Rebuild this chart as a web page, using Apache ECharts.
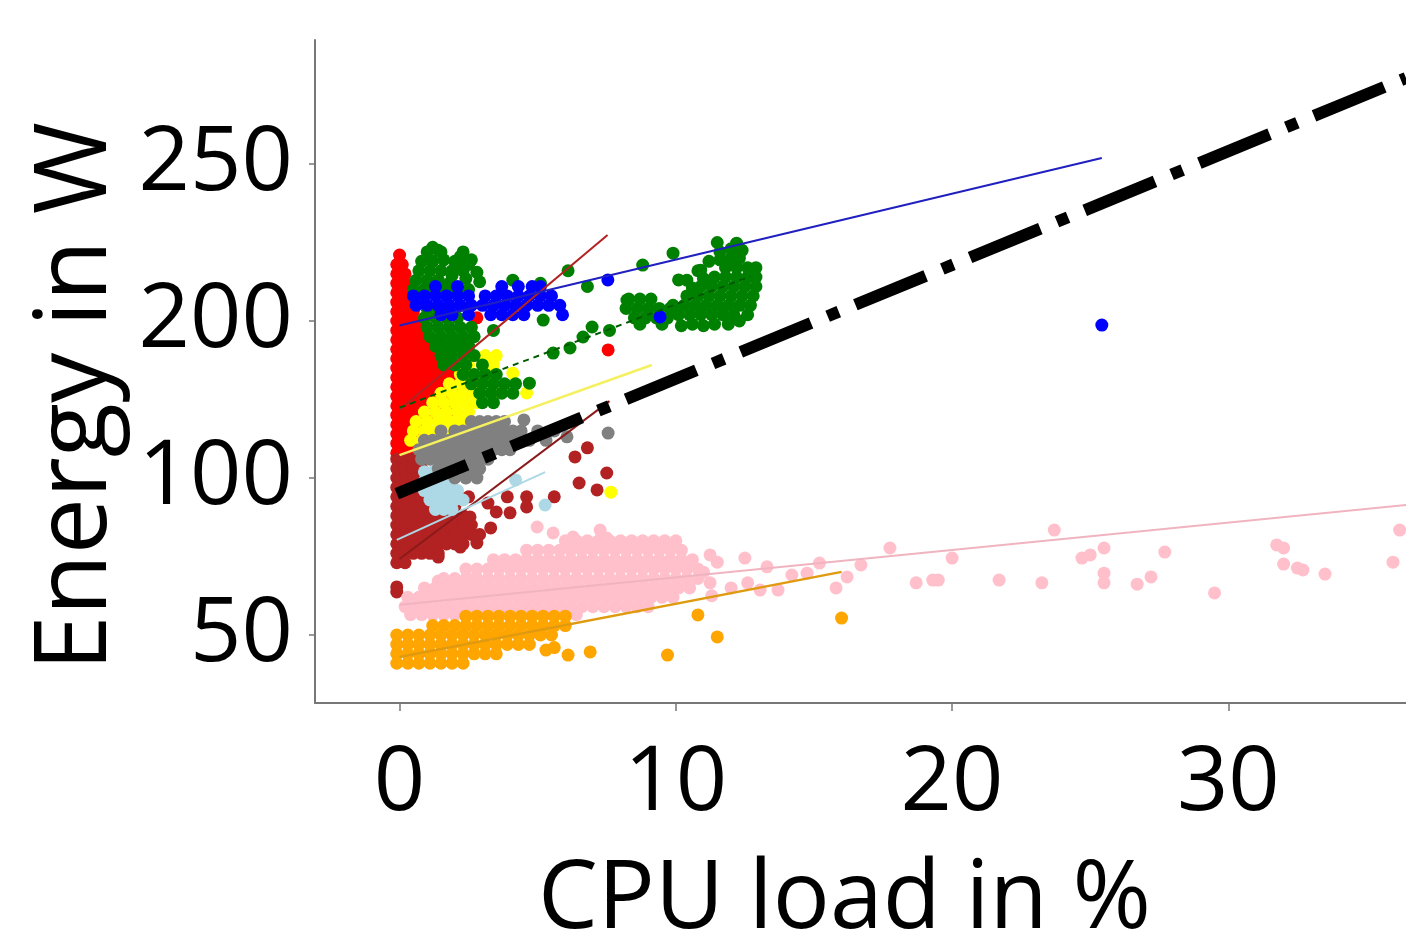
<!DOCTYPE html>
<html>
<head>
<meta charset="utf-8">
<script src="https://cdn.jsdelivr.net/npm/echarts@6/dist/echarts.min.js"></script>
<style>
  html, body { margin: 0; background: #fff; }
  #main { width: 1406px; height: 937px; }
</style>
</head>
<body>
<div id="main"></div>
<script>
// x: CPU load in %, y: position on the energy axis
// (the source figure labels its evenly spaced ticks 50, 100, 200, 250)
const xTicks = [0, 10, 20, 30]
const yTicks = [50, 100, 150, 200]
const yTickLabels = ['50', '100', '200', '250']

const redPoints = [
  [0.0, 171], [-0.1, 168], [0.1, 168], [-0.1, 165], [0.2, 165], [-0.1, 162], [0.2, 162],
  [-0.1, 159], [0.2, 159], [0.5, 159], [-0.1, 156], [0.2, 156], [0.5, 156], [-0.1, 153], [0.2, 153], [0.5, 153],
  [-0.1, 150], [0.2, 150], [0.5, 150], [0.8, 150], [-0.1, 147], [0.2, 147], [0.5, 147], [0.8, 147],
  [-0.1, 144], [0.2, 144], [0.5, 144], [0.8, 144], [1.1, 144],
  [-0.1, 141], [0.2, 141], [0.5, 141], [0.8, 141], [1.1, 141], [1.4, 141],
  [-0.1, 138], [0.2, 138], [0.5, 138], [0.8, 138], [1.1, 138], [1.4, 138], [1.7, 138],
  [-0.1, 135], [0.2, 135], [0.5, 135], [0.8, 135], [1.1, 135], [1.4, 135], [1.7, 135], [2.0, 135],
  [-0.1, 132], [0.2, 132], [0.5, 132], [0.8, 132], [1.1, 132], [1.4, 132], [1.7, 132], [2.0, 132], [2.3, 131],
  [-0.1, 129], [0.2, 129], [0.5, 129], [0.8, 129], [1.1, 129], [1.4, 129], [1.7, 129], [2.0, 129],
  [-0.1, 126], [0.2, 126], [0.5, 126], [0.8, 126], [1.1, 126], [1.4, 126], [1.7, 126],
  [-0.1, 123], [0.2, 123], [0.5, 123], [0.8, 123], [1.1, 123], [1.4, 123],
  [-0.1, 120], [0.2, 120], [0.5, 120], [0.8, 120], [1.1, 120],
  [-0.1, 117], [0.2, 117], [0.5, 117], [0.8, 117],
  [-0.1, 114], [0.2, 114], [0.5, 114], [0.8, 114],
  [-0.1, 111], [0.2, 111], [0.5, 111], [-0.1, 108], [0.2, 108], [0.5, 108],
  [7.55, 140.8], [2.8, 151], [1.9, 121.7], [2.5, 128]
]

const firebrickPoints = [
  [-0.1, 106], [0.2, 106], [0.5, 106],
  [-0.1, 103], [0.2, 103], [0.5, 103], [0.8, 103],
  [-0.1, 100], [0.2, 100], [0.5, 100], [0.8, 100], [1.1, 100],
  [-0.1, 97], [0.2, 97], [0.5, 97], [0.8, 97], [1.1, 97], [1.4, 97],
  [-0.1, 94], [0.2, 94], [0.5, 94], [0.8, 94], [1.1, 94], [1.4, 94], [1.7, 94],
  [-0.1, 91], [0.2, 91], [0.5, 91], [0.8, 91], [1.1, 91], [1.4, 91], [1.7, 91], [2.0, 91],
  [-0.1, 88], [0.2, 88], [0.5, 88], [0.8, 88], [1.1, 88], [1.4, 88], [1.7, 88], [2.0, 88], [2.3, 88],
  [-0.1, 85], [0.2, 85], [0.5, 85], [0.8, 85], [1.1, 85], [1.4, 85], [1.7, 85], [2.0, 85], [2.3, 85], [2.6, 85],
  [-0.1, 82], [0.2, 82], [0.5, 82], [0.8, 82], [1.1, 82], [1.4, 82], [1.7, 82], [2.0, 82], [2.3, 82], [2.6, 82], [2.9, 82],
  [-0.1, 79], [0.2, 79], [0.5, 79], [0.8, 79], [1.1, 79], [1.4, 79], [1.7, 79], [2.0, 79], [2.3, 79],
  [-0.1, 76], [0.2, 76], [0.5, 76], [0.8, 76], [1.1, 76], [1.4, 76],
  [-0.1, 73], [0.2, 73],
  [1.7, 104.8], [2.5, 94], [3.2, 92], [3.9, 94], [4.6, 94], [4.6, 90.8], [5.6, 94], [6.35, 106.7],
  [6.8, 109.6], [7.5, 101.6], [6.5, 98.4], [7.15, 96.2], [4.0, 88.9], [3.5, 89.2], [3.3, 84.1],
  [2.8, 79.3], [2.2, 78.0], [1.4, 74.8], [2.55, 87.6], [-0.1, 65.3], [-0.1, 63.7]
]

const lightbluePoints = [
  [0.9, 102], [1.2, 102], [1.5, 102], [0.9, 99], [1.2, 99], [1.5, 99], [1.8, 99],
  [0.9, 96], [1.2, 96], [1.5, 96], [1.8, 96], [2.1, 96], [1.1, 93], [1.4, 93], [1.7, 93], [2.0, 93], [2.3, 93],
  [1.3, 90], [1.6, 90], [1.9, 90], [2.4, 100], [2.8, 101], [4.2, 99.4], [5.27, 91.4]
]

const pinkPoints = [
  [6.0, 80], [6.4, 80], [6.8, 80], [7.2, 80], [7.6, 80], [8.0, 80], [8.4, 80], [8.8, 80], [9.2, 80], [9.6, 80], [10.0, 80],
  [4.6, 77], [5.0, 77], [5.4, 77], [5.8, 77], [6.2, 77], [6.6, 77], [7.0, 77], [7.4, 77], [7.8, 77], [8.2, 77],
  [8.6, 77], [9.0, 77], [9.4, 77], [9.8, 77], [10.2, 77],
  [3.4, 74], [3.8, 74], [4.2, 74], [4.6, 74], [5.0, 74], [5.4, 74], [5.8, 74], [6.2, 74], [6.6, 74], [7.0, 74],
  [7.4, 74], [7.8, 74], [8.2, 74], [8.6, 74], [9.0, 74], [9.4, 74], [9.8, 74], [10.2, 74], [10.6, 74],
  [2.4, 71], [2.8, 71], [3.2, 71], [3.6, 71], [4.0, 71], [4.4, 71], [4.8, 71], [5.2, 71], [5.6, 71], [6.0, 71], [6.4, 71],
  [6.8, 71], [7.2, 71], [7.6, 71], [8.0, 71], [8.4, 71], [8.8, 71], [9.2, 71], [9.6, 71], [10.0, 71], [10.4, 71], [10.8, 71],
  [1.6, 68], [2.0, 68], [2.4, 68], [2.8, 68], [3.2, 68], [3.6, 68], [4.0, 68], [4.4, 68], [4.8, 68], [5.2, 68], [5.6, 68], [6.0, 68],
  [6.4, 68], [6.8, 68], [7.2, 68], [7.6, 68], [8.0, 68], [8.4, 68], [8.8, 68], [9.2, 68], [9.6, 68], [10.0, 68], [10.4, 68], [10.8, 68],
  [0.9, 65], [1.3, 65], [1.7, 65], [2.1, 65], [2.5, 65], [2.9, 65], [3.3, 65], [3.7, 65], [4.1, 65], [4.5, 65], [4.9, 65], [5.3, 65], [5.7, 65],
  [6.1, 65], [6.5, 65], [6.9, 65], [7.3, 65], [7.7, 65], [8.1, 65], [8.5, 65], [8.9, 65], [9.3, 65], [9.7, 65], [10.1, 65], [10.5, 65],
  [0.3, 62], [0.7, 62], [1.1, 62], [1.5, 62], [1.9, 62], [2.3, 62], [2.7, 62], [3.1, 62], [3.5, 62], [3.9, 62], [4.3, 62], [4.7, 62], [5.1, 62],
  [5.5, 62], [5.9, 62], [6.3, 62], [6.7, 62], [7.1, 62], [7.5, 62], [7.9, 62], [8.3, 62], [8.7, 62], [9.1, 62], [9.5, 62], [9.9, 62],
  [0.2, 59], [0.6, 59], [1.0, 59], [1.4, 59], [1.8, 59], [2.2, 59], [2.6, 59], [3.0, 59], [3.4, 59], [3.8, 59], [4.2, 59], [4.6, 59],
  [5.0, 59], [5.4, 59], [5.8, 59], [6.2, 59], [6.6, 59], [7.0, 59], [7.4, 59], [7.8, 59], [8.2, 59], [8.6, 59], [9.0, 59],
  [0.4, 56.5], [0.8, 56.5], [1.2, 56.5], [1.6, 56.5], [2.0, 56.5], [2.4, 56.5], [2.8, 56.5], [3.2, 56.5],
  [3.6, 56.5], [4.0, 56.5], [4.4, 56.5], [4.8, 56.5], [5.2, 56.5], [5.6, 56.5], [6.0, 56.5], [6.4, 56.5],
  [4.98, 84.4], [5.56, 82.5], [6.28, 81.2], [6.9, 78], [7.26, 83.4], [7.5, 80.9],
  [1.4, 67.2], [2.0, 67.2], [2.7, 67.8],
  [11.24, 75.5], [11.5, 73.2], [12.5, 74.5], [13.3, 71.7], [15.2, 72.9], [16.7, 72.3], [17.75, 77.7],
  [14.2, 69.1], [14.75, 69.7], [16.2, 68.5], [15.8, 65], [12.0, 65], [12.6, 66.6], [13.05, 64.3],
  [13.7, 64.3], [11.24, 66.6], [11.0, 70], [11.3, 62.5],
  [18.7, 66.6], [19.3, 67.5], [19.5, 67.5], [20.0, 74.5], [21.7, 67.5], [23.25, 66.6], [23.7, 83.4],
  [24.7, 74.5], [25.0, 75.5], [25.5, 77.7], [25.5, 69.7], [25.5, 66.6], [26.7, 66.2], [27.2, 68.5],
  [27.7, 76.4], [29.5, 63.4], [31.75, 78.7], [32.0, 77.7], [32.0, 72.6], [32.5, 71.3], [32.7, 70.7],
  [33.5, 69.4], [35.96, 73.2], [36.2, 83.4]
]

const orangePoints = [
  [2.4, 56], [2.8, 56], [3.2, 56], [3.6, 56], [4.0, 56], [4.4, 56], [4.8, 56], [5.2, 56], [5.6, 56], [6.0, 56],
  [1.2, 53], [1.6, 53], [2.0, 53], [2.4, 53], [2.8, 53], [3.2, 53], [3.6, 53], [4.0, 53], [4.4, 53], [4.8, 53], [5.2, 53], [5.6, 53], [6.0, 53],
  [-0.1, 50], [0.3, 50], [0.7, 50], [1.1, 50], [1.5, 50], [1.9, 50], [2.3, 50], [2.7, 50], [3.1, 50], [3.5, 50], [3.9, 50], [4.3, 50], [4.7, 50], [5.1, 50], [5.5, 50],
  [-0.1, 47], [0.3, 47], [0.7, 47], [1.1, 47], [1.5, 47], [1.9, 47], [2.3, 47], [2.7, 47], [3.1, 47], [3.5, 47], [3.9, 47], [4.3, 47], [4.7, 47],
  [-0.1, 44], [0.3, 44], [0.7, 44], [1.1, 44], [1.5, 44], [1.9, 44], [2.3, 44], [2.7, 44], [3.1, 44], [3.5, 44],
  [-0.1, 41], [0.3, 41], [0.7, 41], [1.1, 41], [1.5, 41], [1.9, 41], [2.3, 41],
  [5.3, 45.2], [5.6, 46.0], [6.1, 43.6], [6.9, 44.6], [9.7, 43.6], [10.8, 56.4], [11.5, 49.4], [16.0, 55.4]
]

const yellowPoints = [
  [3.1, 139], [3.5, 139], [2.5, 136], [3.0, 136], [3.4, 136], [2.2, 133], [2.6, 133], [3.2, 133],
  [1.8, 130], [2.2, 130], [2.6, 130], [3.0, 130], [1.5, 127], [1.9, 127], [2.3, 127], [2.7, 127],
  [1.2, 124], [1.6, 124], [2.0, 124], [2.4, 124], [2.8, 124], [0.9, 121], [1.3, 121], [1.7, 121], [2.1, 121], [2.5, 121],
  [0.6, 118], [1.0, 118], [1.4, 118], [1.8, 118], [2.2, 118], [0.5, 115], [0.9, 115], [1.3, 115], [1.7, 115],
  [0.4, 112], [0.8, 112], [1.2, 112],
  [4.1, 133.4], [3.46, 138.5], [4.6, 127.1], [3.35, 127.1], [7.65, 95.5]
]

const greenPoints = [
  [1.2, 173.5], [1.6, 169.5], [2.2, 170.5], [2.2, 167], [1.1, 166], [1.0, 170], [1.5, 172], [1.9, 166], [2.5, 168],
  [1.0, 172], [1.4, 172.5], [2.3, 172], [0.8, 169], [1.2, 169], [2.0, 169], [2.6, 169.5],
  [0.7, 166], [1.5, 166], [2.3, 166], [2.8, 165.5], [0.6, 163], [1.0, 163], [1.9, 164.5],
  [0.9, 160], [1.7, 160.5], [2.1, 160], [2.5, 160],
  [1.4, 163], [1.8, 162], [2.4, 163.5], [2.9, 162.5], [4.1, 163], [5.1, 162], [6.1, 166], [6.8, 161],
  [0.5, 160], [0.8, 157], [1.3, 160], [1.7, 158],
  [1.0, 154], [1.4, 154], [1.8, 154], [0.9, 151], [1.3, 151], [1.7, 151], [2.1, 151], [5.2, 150.3],
  [1.0, 148], [1.4, 148], [1.8, 148], [2.2, 148], [2.6, 148],
  [1.1, 145], [1.5, 145], [1.9, 145], [2.3, 145], [2.7, 145], [3.4, 147],
  [1.3, 142], [1.7, 142], [2.1, 142], [2.5, 142], [1.5, 139], [1.9, 139], [2.3, 139], [2.7, 139],
  [1.6, 136], [2.0, 136], [2.4, 136], [3.0, 136], [2.3, 133], [2.7, 133], [3.1, 133], [3.5, 133],
  [2.6, 130], [3.0, 130], [3.4, 130], [3.8, 130], [4.2, 130], [2.9, 127], [3.3, 127], [3.7, 127], [4.1, 127], [4.7, 130.2],
  [3.0, 124], [3.4, 124],
  [5.56, 139.8], [6.17, 141.4], [6.64, 144.9], [6.97, 148.1], [8.23, 156.7], [7.6, 147],
  [8.8, 167.8], [9.9, 171.6], [10.1, 163.1], [10.9, 166.2], [11.5, 175], [12.2, 174.8],
  [8.3, 157], [8.7, 157], [9.1, 157], [8.2, 154], [8.6, 154], [9.0, 154], [9.4, 154], [9.8, 154],
  [8.5, 151], [8.9, 151], [9.3, 151], [9.7, 151], [8.7, 149], [9.5, 149],
  [11.6, 172], [12.0, 173], [12.4, 172.5], [11.2, 169], [11.6, 169.5], [10.8, 166], [10.4, 163], [10.6, 160.5],
  [12.0, 170], [12.3, 170], [11.8, 167], [12.2, 167], [12.6, 167], [12.9, 167], [12.9, 164],
  [11.4, 164], [11.8, 164], [12.2, 164], [12.6, 164], [11.0, 163.5],
  [10.9, 161], [11.3, 161], [11.7, 161], [12.1, 161], [12.5, 161], [12.9, 161],
  [10.4, 158], [10.8, 158], [11.2, 158], [11.6, 158], [12.0, 158], [12.4, 158], [12.8, 158],
  [9.9, 155], [10.3, 155], [10.7, 155], [11.1, 155], [11.5, 155], [11.9, 155], [12.3, 155], [12.7, 155],
  [10.1, 152], [10.5, 152], [10.9, 152], [11.3, 152], [11.7, 152], [12.1, 152], [12.6, 152],
  [10.2, 148.5], [10.6, 149], [11.0, 148.5], [11.4, 149], [11.9, 149], [12.3, 150]
]

const bluePoints = [
  [1.3, 161], [2.1, 161], [3.7, 161], [4.3, 161], [4.8, 161], [5.1, 161],
  [0.5, 158], [0.9, 158], [1.3, 158], [1.7, 158], [2.1, 158], [2.5, 158], [3.1, 158], [3.5, 158], [3.9, 158],
  [4.3, 158], [4.7, 158], [5.1, 158], [5.5, 158],
  [0.6, 155], [1.0, 155], [1.4, 155], [1.8, 155], [2.2, 155], [2.6, 155], [3.0, 155], [3.4, 155], [3.8, 155],
  [4.2, 155], [4.6, 155], [5.0, 155], [5.4, 155], [5.8, 155],
  [1.5, 152], [1.9, 152], [2.5, 152], [3.3, 152], [3.7, 152], [4.1, 152], [4.5, 152], [5.9, 152],
  [7.54, 163.1], [9.43, 151.3], [25.42, 148.7]
]

const grayPoints = [
  [2.6, 118], [2.9, 118], [3.2, 118], [3.5, 118], [3.8, 118], [4.5, 118.5],
  [1.5, 115], [2.0, 115], [2.3, 115], [2.6, 115], [2.9, 115], [3.2, 115], [3.5, 115], [3.8, 115], [4.1, 115], [4.4, 115], [5.0, 115], [5.6, 115],
  [0.9, 112], [1.2, 112], [1.5, 112], [1.8, 112], [2.1, 112], [2.4, 112], [2.7, 112], [3.0, 112], [3.3, 112], [3.6, 112], [3.9, 112], [4.2, 112], [4.7, 112], [5.3, 112],
  [0.7, 109], [1.0, 109], [1.3, 109], [1.6, 109], [1.9, 109], [2.2, 109], [2.5, 109], [2.8, 109], [3.1, 109], [3.4, 109], [3.7, 109], [4.0, 109],
  [0.8, 106], [1.1, 106], [1.4, 106], [1.7, 106], [2.0, 106], [2.3, 106], [2.6, 106], [2.9, 106], [3.2, 106],
  [1.4, 103], [1.7, 103], [2.0, 103], [2.3, 103], [2.6, 103], [2.9, 103], [2.0, 100], [2.4, 100], [2.8, 100],
  [6.06, 113.1], [7.55, 114.3]
]

// fitted lines: [start, end]
const redFit = [[0, 121.7], [7.53, 177.4]]
const firebrickFit = [[0, 74.2], [7.6, 124.5]]
const lightblueFit = [[-0.1, 80.3], [5.27, 101.9]]
const yellowFit = [[0, 107.3], [9.13, 136.0]]
const greenFit = [[0, 122.4], [12.7, 164.2]]
const blueFit = [[0, 148.6], [25.42, 201.9]]
const pinkFit = [[0, 59.6], [36.43, 91.4]]
const orangeFit = [[0, 43.0], [16.0, 70.1]]
const overallFit = [[-0.1, 95.0], [36.43, 227.4]]

const chart = echarts.init(document.getElementById('main'))

function dots (name, data, color) {
  return {
    name: name,
    type: 'scatter',
    data: data,
    symbolSize: 13,
    itemStyle: { color: color, opacity: 1 },
    silent: true
  }
}

function fit (name, data, color, width, type) {
  return {
    name: name,
    type: 'line',
    data: data,
    showSymbol: false,
    symbol: 'none',
    lineStyle: { color: color, width: width, type: type || 'solid', cap: 'butt' },
    silent: true
  }
}

const yLabelMap = {}
yTicks.forEach(function (v, i) { yLabelMap[v] = yTickLabels[i] })

chart.setOption({
  animation: false,
  backgroundColor: '#fff',
  grid: { left: 315, right: 0, top: 40, bottom: 234, containLabel: false, outerBoundsMode: 'none' },
  xAxis: {
    type: 'value',
    min: -3.06,
    max: 36.43,
    name: 'CPU load in %',
    nameLocation: 'middle',
    nameGap: 150,
    nameTextStyle: { fontFamily: 'Open Sans', fontSize: 95, color: '#000', padding: [0, 32, 0, 0] },
    axisLine: { show: true, onZero: false, lineStyle: { color: '#777', width: 2 } },
    axisTick: { show: true, length: 8, customValues: xTicks, lineStyle: { color: '#777', width: 1.5 } },
    axisLabel: { customValues: xTicks, fontFamily: 'Open Sans', fontSize: 90, color: '#000', margin: 36 },
    splitLine: { show: false }
  },
  yAxis: {
    type: 'value',
    min: 28.34,
    max: 239.5,
    name: 'Energy in W',
    nameLocation: 'middle',
    nameGap: 176,
    nameTextStyle: { fontFamily: 'Open Sans', fontSize: 100, color: '#000', padding: [0, 50, 0, 0] },
    axisLine: { show: true, onZero: false, lineStyle: { color: '#777', width: 2 } },
    axisTick: { show: true, length: 6, customValues: yTicks, lineStyle: { color: '#777', width: 1.5 } },
    axisLabel: {
      customValues: yTicks,
      fontFamily: 'Open Sans',
      fontSize: 90,
      color: '#000',
      margin: 22,
      formatter: function (v) { return yLabelMap[v] !== undefined ? yLabelMap[v] : '' }
    },
    splitLine: { show: false }
  },
  series: [
    dots('red', redPoints, '#ff0000'),
    dots('firebrick', firebrickPoints, '#b22222'),
    dots('lightblue', lightbluePoints, '#add8e6'),
    dots('pink', pinkPoints, '#ffc0cb'),
    dots('orange', orangePoints, '#ffa500'),
    dots('yellow', yellowPoints, '#ffff00'),
    dots('green', greenPoints, '#008000'),
    dots('blue', bluePoints, '#0000ff'),
    dots('gray', grayPoints, '#808080'),
    fit('red fit', redFit, '#b22222', 2),
    fit('firebrick fit', firebrickFit, '#8b1a1a', 2),
    fit('lightblue fit', lightblueFit, '#add8e6', 2),
    fit('yellow fit', yellowFit, '#f5f060', 2.5),
    fit('green fit', greenFit, '#005a00', 2, [6, 5]),
    fit('blue fit', blueFit, '#2020c0', 2),
    fit('pink fit', pinkFit, '#f0b4c0', 2),
    fit('orange fit', orangeFit, '#e09a10', 2.5),
    fit('overall fit', overallFit, '#000', 12, [76, 18, 12, 18])
  ]
})
</script>
</body>
</html>
